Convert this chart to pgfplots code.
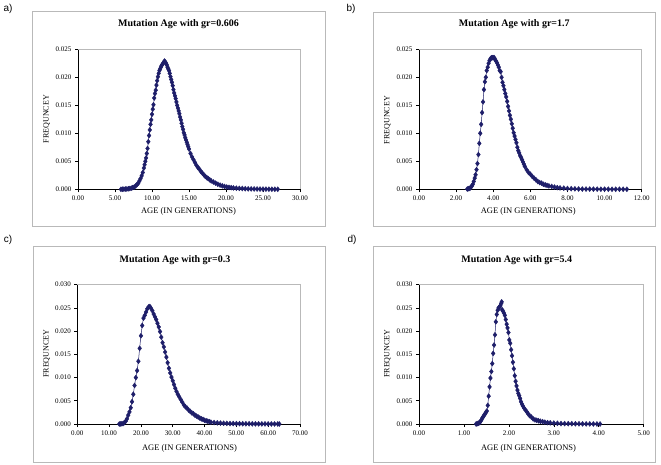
\documentclass[border=0pt]{standalone}
\usepackage{fontspec}
\setmainfont{Liberation Serif}
\newfontfamily\labelfont{Liberation Sans}
\usepackage{pgfplots}
\pgfplotsset{compat=1.18}
\usepackage{pgfplotstable}
\definecolor{navy}{RGB}{30,30,105}
\definecolor{framegray}{RGB}{185,185,185}

\pgfplotstableread{
x y
5.8 0.0000
6.0 0.00002
6.2 0.00003
6.4 0.00005
6.6 0.00006
6.8 0.0001
7.0 0.00014
7.2 0.0002
7.4 0.0003
7.6 0.00042
7.8 0.0006
8.0 0.0009
8.15 0.0011
8.3 0.0015
8.45 0.0019
8.6 0.0024
8.75 0.0030
8.9 0.0038
9.0 0.0044
9.1 0.0050
9.2 0.0056
9.3 0.0064
9.4 0.0073
9.5 0.0085
9.6 0.0096
9.7 0.0106
9.8 0.0116
9.9 0.0124
10.0 0.0134
10.1 0.0143
10.2 0.0151
10.3 0.0163
10.4 0.0171
10.5 0.0177
10.6 0.0186
10.7 0.0194
10.8 0.0201
10.9 0.0207
11.0 0.0212
11.1 0.0215
11.2 0.0218
11.3 0.0221
11.4 0.0223
11.5 0.0225
11.6 0.0227
11.7 0.0229
11.8 0.0227
11.9 0.0225
12.0 0.0222
12.1 0.0218
12.2 0.0215
12.3 0.0212
12.4 0.0207
12.5 0.0201
12.6 0.0196
12.7 0.0191
12.8 0.0185
12.9 0.0178
13.0 0.0172
13.1 0.0167
13.2 0.0162
13.3 0.0156
13.4 0.0150
13.5 0.0145
13.6 0.0140
13.7 0.0135
13.8 0.0129
13.9 0.0124
14.0 0.0118
14.1 0.0112
14.2 0.0107
14.3 0.0101
14.4 0.0097
14.5 0.0092
14.6 0.0088
14.7 0.0084
14.8 0.0080
14.9 0.0076
15.0 0.0072
15.2 0.0064
15.4 0.0058
15.6 0.0053
15.8 0.0048
16.0 0.0043
16.2 0.0039
16.4 0.0036
16.6 0.0032
16.8 0.0029
17.0 0.0026
17.2 0.0023
17.4 0.0021
17.6 0.0019
17.8 0.0017
18.0 0.0015
18.3 0.0013
18.6 0.0011
18.9 0.0009
19.2 0.00075
19.5 0.00062
19.8 0.0005
20.1 0.0004
20.4 0.00035
20.7 0.0003
21.0 0.00025
21.4 0.0002
21.8 0.00017
22.2 0.00014
22.6 0.0001
23.0 0.00008
23.4 0.00007
23.8 0.00006
24.2 0.00005
24.6 0.00004
25.0 0.00003
25.4 0.00003
25.8 0.00002
26.2 0.00002
26.6 0.00001
27.0 0.00001
}\dataA

\pgfplotstableread{
x y
2.60 0.00005
2.65 0.0001
2.70 0.00015
2.75 0.0002
2.80 0.0004
2.85 0.0006
2.90 0.0009
2.95 0.0014
3.00 0.0020
3.05 0.0026
3.10 0.0035
3.15 0.0046
3.20 0.0062
3.25 0.0082
3.30 0.0100
3.35 0.0116
3.40 0.0137
3.45 0.0156
3.50 0.0178
3.55 0.0192
3.60 0.0200
3.65 0.0212
3.70 0.0218
3.75 0.0225
3.80 0.0230
3.85 0.0233
3.90 0.0235
3.95 0.0235
4.00 0.0235
4.05 0.0235
4.10 0.0232
4.15 0.0229
4.20 0.0226
4.25 0.0222
4.30 0.0218
4.35 0.0212
4.40 0.0210
4.45 0.0200
4.50 0.0191
4.55 0.0185
4.60 0.0178
4.65 0.0171
4.70 0.0165
4.75 0.0157
4.80 0.0148
4.85 0.0140
4.90 0.0132
4.95 0.0125
5.00 0.0117
5.05 0.0109
5.10 0.0101
5.15 0.0095
5.20 0.0089
5.25 0.0083
5.30 0.0075
5.35 0.0069
5.40 0.0065
5.45 0.0060
5.50 0.0057
5.55 0.0053
5.60 0.0049
5.65 0.0045
5.70 0.0041
5.80 0.0035
5.90 0.0030
6.00 0.0027
6.10 0.0023
6.20 0.0020
6.30 0.0017
6.40 0.0014
6.50 0.0012
6.60 0.0011
6.70 0.0009
6.80 0.0008
6.90 0.0007
7.00 0.0006
7.15 0.0005
7.30 0.0004
7.45 0.0003
7.60 0.00025
7.80 0.0002
8.00 0.00014
8.20 0.0001
8.40 0.00008
8.60 0.00006
8.80 0.00005
9.00 0.00004
9.20 0.00004
9.40 0.00003
9.60 0.00003
9.80 0.00002
10.00 0.00002
10.20 0.00002
10.40 0.00001
10.60 0.00001
10.80 0.00001
11.00 0.00001
11.20 0.0
}\dataB

\pgfplotstableread{
x y
13.2 0.0
13.6 0.00002
14.0 0.00005
14.4 0.0001
14.8 0.0003
15.2 0.0006
15.6 0.0011
16.0 0.0019
16.4 0.0026
16.8 0.0035
17.2 0.0048
17.6 0.0064
18.0 0.0083
18.4 0.0100
18.8 0.0115
19.2 0.0135
19.6 0.0163
20.0 0.0190
20.4 0.0212
20.8 0.0228
21.2 0.0234
21.6 0.0241
22.0 0.0248
22.4 0.0252
22.8 0.0253
23.2 0.0249
23.6 0.0244
24.0 0.0237
24.4 0.0231
24.8 0.0225
25.2 0.0217
25.6 0.0209
26.0 0.0199
26.4 0.0187
26.8 0.0175
27.2 0.0166
27.6 0.0155
28.0 0.0144
28.4 0.0132
28.8 0.0120
29.2 0.0110
29.6 0.0101
30.0 0.0093
30.4 0.0085
30.8 0.0077
31.2 0.0070
31.6 0.0064
32.0 0.0059
32.5 0.0053
33.0 0.0047
33.5 0.0041
34.0 0.0037
34.5 0.0034
35.0 0.0030
35.5 0.0027
36.0 0.0024
36.5 0.0022
37.0 0.0019
37.5 0.0017
38.0 0.0015
38.5 0.0013
39.0 0.0011
39.5 0.0010
40.0 0.0008
40.5 0.0007
41.0 0.0006
41.5 0.0005
42.0 0.0004
43.0 0.0003
44.0 0.00025
45.0 0.0002
46.0 0.00015
47.0 0.00013
48.0 0.0001
49.0 0.0001
50.0 0.00008
51.0 0.00007
52.0 0.00006
53.0 0.00005
54.0 0.00005
55.0 0.00004
56.0 0.00003
57.0 0.00003
58.0 0.00002
59.0 0.00002
60.0 0.00002
61.0 0.00001
62.0 0.00001
63.0 0.00001
63.5 0.0
}\dataC

\pgfplotstableread{
x y
1.27 0.0000
1.29 0.00005
1.31 0.0001
1.33 0.0002
1.35 0.0003
1.37 0.0006
1.39 0.0009
1.41 0.0013
1.43 0.0016
1.45 0.0019
1.47 0.0022
1.49 0.0025
1.51 0.0028
1.53 0.0040
1.55 0.0060
1.57 0.0080
1.59 0.0099
1.61 0.0113
1.63 0.0130
1.65 0.0152
1.67 0.0170
1.69 0.0192
1.71 0.0220
1.73 0.0236
1.75 0.0245
1.77 0.0250
1.79 0.0252
1.81 0.0255
1.83 0.0260
1.84 0.0263
1.85 0.0246
1.87 0.0243
1.89 0.0239
1.91 0.0234
1.93 0.0225
1.95 0.0215
1.97 0.0207
1.99 0.0197
2.01 0.0181
2.03 0.0174
2.05 0.0160
2.07 0.0147
2.09 0.0133
2.11 0.0119
2.13 0.0104
2.15 0.0092
2.17 0.0082
2.19 0.0073
2.21 0.0066
2.23 0.0061
2.25 0.0055
2.27 0.0048
2.29 0.0043
2.31 0.0039
2.34 0.0034
2.37 0.0030
2.40 0.0026
2.43 0.0022
2.46 0.0018
2.50 0.0015
2.54 0.0011
2.58 0.0009
2.62 0.0008
2.66 0.0007
2.70 0.0006
2.75 0.0005
2.80 0.0004
2.86 0.0003
2.92 0.00025
3.00 0.0002
3.08 0.00015
3.16 0.0001
3.24 0.00008
3.32 0.00007
3.40 0.00006
3.48 0.00005
3.56 0.00004
3.64 0.00003
3.72 0.00002
3.80 0.00002
3.88 0.00001
3.96 0.00001
4.03 0.0
}\dataD

\pgfplotsset{
  panel/.style={
    scale only axis, width=222pt, height=140pt,
    anchor=south west, clip=false,
    axis x line=bottom, axis y line=left,
    axis line style={-, black, line width=0.6pt},
    tick align=outside, major tick length=3pt,
    tick style={black, line width=0.6pt},
    ticklabel style={font=\fontsize{7}{8}\selectfont},
    /pgf/number format/assume math mode=true,
    scaled ticks=false,
    xticklabel style={/pgf/number format/.cd, fixed, fixed zerofill, precision=2},
    yticklabel style={/pgf/number format/.cd, fixed, fixed zerofill, precision=3},
    ymin=0,
    after end axis/.code={\draw[framegray, line width=0.6pt] (rel axis cs:0,1) -- (rel axis cs:1,1) -- (rel axis cs:1,0);},
  },
  curve/.style={navy, line width=0.5pt, mark=diamond*, mark size=2.5pt, mark options={fill=navy, draw=navy, line width=0.4pt}},
}

\begin{document}
\begin{tikzpicture}[x=1pt,y=1pt]
\useasboundingbox (0,0) rectangle (661,464);
% frames
\draw[framegray, line width=0.6pt] (32.3,237.3) rectangle (325,452.3);
\draw[framegray, line width=0.6pt] (373.3,238) rectangle (655,452);
\draw[framegray, line width=0.6pt] (33,2) rectangle (325,218);
\draw[framegray, line width=0.6pt] (373,2) rectangle (655,218);

\begin{axis}[panel, at={(78pt,274.7pt)}, xmin=0, xmax=30, xtick={0,5,...,30}, ymax=0.025, ytick={0,0.005,...,0.025}]
\addplot[curve] table[x=x,y=y] {\dataA};
\end{axis}

\begin{axis}[panel, at={(419pt,274.7pt)}, width=222.7pt, xmin=0, xmax=12, xtick={0,2,...,12}, ymax=0.025, ytick={0,0.005,...,0.025}]
\addplot[curve] table[x=x,y=y] {\dataB};
\end{axis}

\begin{axis}[panel, at={(77.3pt,40pt)}, width=222.7pt, height=139.3pt, xmin=0, xmax=70, xtick={0,10,...,70}, ymax=0.03, ytick={0,0.005,...,0.03}]
\addplot[curve] table[x=x,y=y] {\dataC};
\end{axis}

\begin{axis}[panel, at={(419pt,40pt)}, width=224.7pt, height=139.3pt, xmin=0, xmax=5, xtick={0,1,...,5}, ymax=0.03, ytick={0,0.005,...,0.03}]
\addplot[curve] table[x=x,y=y] {\dataD};
\end{axis}

% titles
\begin{scope}[every node/.style={font=\bfseries\fontsize{10}{12}\selectfont}]
\node at (178.5,439.7) {Mutation Age with gr=0.606};
\node at (514.3,439.7) {Mutation Age with gr=1.7};
\node at (175,203.7) {Mutation Age with gr=0.3};
\node at (516.7,203.7) {Mutation Age with gr=5.4};
\end{scope}
% axis labels
\begin{scope}[every node/.style={font=\fontsize{8.5}{10}\selectfont}]
\node at (188.5,252.3) {AGE (IN GENERATIONS)};
\node at (528.3,252.3) {AGE (IN GENERATIONS)};
\node at (189.5,16) {AGE (IN GENERATIONS)};
\node at (528.5,16) {AGE (IN GENERATIONS)};
\end{scope}
\begin{scope}[every node/.style={font=\fontsize{8}{10}\selectfont}]
\node[rotate=90] at (46.7,345) {FREQUNCEY};
\node[rotate=90] at (387.3,344) {FREQUNCEY};
\node[rotate=90] at (46.7,110.3) {FREQUNCEY};
\node[rotate=90] at (387.3,110.3) {FREQUNCEY};
\end{scope}
% panel letters
\begin{scope}[every node/.style={font=\labelfont\fontsize{10}{12}\selectfont}]
\node at (8,455) {a)};
\node at (351,455) {b)};
\node at (8,224.5) {c)};
\node at (352,224.5) {d)};
\end{scope}
\end{tikzpicture}
\end{document}
